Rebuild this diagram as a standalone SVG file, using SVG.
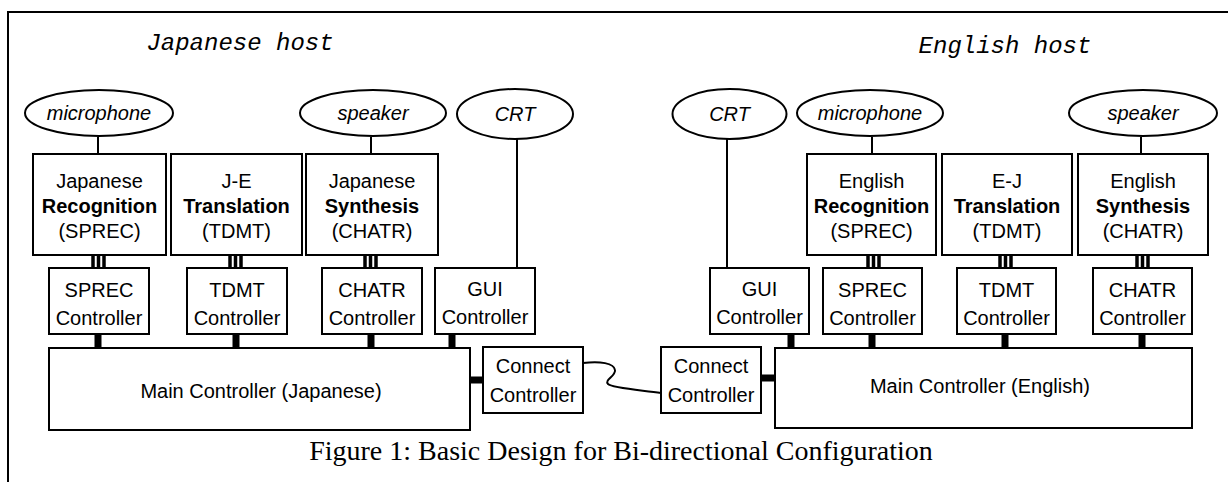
<svg xmlns="http://www.w3.org/2000/svg" width="1228" height="482" viewBox="0 0 1228 482">
<style>
  .box{fill:#fff;stroke:#000;stroke-width:2}
  .ell{fill:#fff;stroke:#000;stroke-width:2}
  .t{font-family:"Liberation Sans",Arial,sans-serif;font-size:20px;fill:#000;text-anchor:middle}
  .b{font-weight:bold}
  .i{font-style:italic}
  .host{font-family:"Liberation Mono","Courier New",monospace;font-style:italic;font-size:24px;fill:#000;text-anchor:middle}
  .cap{font-family:"Liberation Serif","Times New Roman",serif;font-size:28px;fill:#000;text-anchor:middle}
  .ln{stroke:#000;stroke-width:2;fill:none}
  .tri{stroke:#000;stroke-width:3.5}
  .thk{fill:#000}
</style>
<rect x="0" y="0" width="1228" height="482" fill="#fff"/>
<path class="ln" d="M8,482 V12 H1228"/>

<text class="host" x="240" y="50">Japanese host</text>
<text class="host" x="1005" y="53">English host</text>

<g id="connectors">
  <line class="ln" x1="98" y1="137" x2="98" y2="154"/>
  <line class="ln" x1="371" y1="137" x2="371" y2="154"/>
  <line class="ln" x1="517" y1="139" x2="517" y2="268"/>
  <line class="ln" x1="727" y1="139" x2="727" y2="268"/>
  <line class="ln" x1="872" y1="137" x2="872" y2="154"/>
  <line class="ln" x1="1141" y1="137" x2="1141" y2="154"/>
  <g class="tri">
    <line x1="93" y1="255" x2="93" y2="268"/><line x1="98.5" y1="255" x2="98.5" y2="268"/><line x1="104" y1="255" x2="104" y2="268"/>
    <line x1="230" y1="255" x2="230" y2="268"/><line x1="235.5" y1="255" x2="235.5" y2="268"/><line x1="241" y1="255" x2="241" y2="268"/>
    <line x1="365" y1="255" x2="365" y2="268"/><line x1="370.5" y1="255" x2="370.5" y2="268"/><line x1="376" y1="255" x2="376" y2="268"/>
    <line x1="868" y1="255" x2="868" y2="268"/><line x1="873.5" y1="255" x2="873.5" y2="268"/><line x1="879" y1="255" x2="879" y2="268"/>
    <line x1="1000" y1="255" x2="1000" y2="268"/><line x1="1005.5" y1="255" x2="1005.5" y2="268"/><line x1="1011" y1="255" x2="1011" y2="268"/>
    <line x1="1137" y1="255" x2="1137" y2="268"/><line x1="1142.5" y1="255" x2="1142.5" y2="268"/><line x1="1148" y1="255" x2="1148" y2="268"/>
  </g>
  <g class="thk">
    <rect x="94.5" y="334" width="7" height="14"/>
    <rect x="232.5" y="334" width="7" height="14"/>
    <rect x="367.5" y="334" width="7" height="14"/>
    <rect x="448.5" y="334" width="7" height="14"/>
    <rect x="787.5" y="334" width="7" height="14"/>
    <rect x="868.5" y="334" width="7" height="14"/>
    <rect x="1001.5" y="334" width="7" height="14"/>
    <rect x="1138.5" y="334" width="7" height="14"/>
    <rect x="470" y="376.5" width="13" height="7"/>
    <rect x="761" y="374.5" width="14" height="7"/>
  </g>
  <path class="ln" d="M583,363 C600,361 614,363 615,370 C616,376 604,380 608,384 C612,388 640,390 661,393"/>
</g>

<g id="mic-j"><ellipse class="ell" cx="99" cy="113" rx="74" ry="23"/><text class="t i" x="99" y="120">microphone</text></g>
<g id="spk-j"><ellipse class="ell" cx="373" cy="113" rx="73" ry="23"/><text class="t i" x="373" y="120">speaker</text></g>
<g id="crt-j"><ellipse class="ell" cx="515" cy="114" rx="58" ry="25"/><text class="t i" x="515" y="121">CRT</text></g>
<g id="crt-e"><ellipse class="ell" cx="729.5" cy="114" rx="57" ry="25"/><text class="t i" x="729.5" y="121">CRT</text></g>
<g id="mic-e"><ellipse class="ell" cx="870" cy="113" rx="73" ry="23"/><text class="t i" x="870" y="120">microphone</text></g>
<g id="spk-e"><ellipse class="ell" cx="1143" cy="113" rx="74" ry="23"/><text class="t i" x="1143" y="120">speaker</text></g>

<g id="j-recog"><rect class="box" x="33" y="154" width="133" height="101"/>
  <text class="t" x="99.5" y="188">Japanese</text><text class="t b" x="99.5" y="213">Recognition</text><text class="t" x="99.5" y="238">(SPREC)</text></g>
<g id="j-trans"><rect class="box" x="171" y="154" width="131" height="101"/>
  <text class="t" x="236.5" y="188">J-E</text><text class="t b" x="236.5" y="213">Translation</text><text class="t" x="236.5" y="238">(TDMT)</text></g>
<g id="j-synth"><rect class="box" x="306" y="154" width="132" height="101"/>
  <text class="t" x="372" y="188">Japanese</text><text class="t b" x="372" y="213">Synthesis</text><text class="t" x="372" y="238">(CHATR)</text></g>
<g id="e-recog"><rect class="box" x="807" y="154" width="129" height="101"/>
  <text class="t" x="871.5" y="188">English</text><text class="t b" x="871.5" y="213">Recognition</text><text class="t" x="871.5" y="238">(SPREC)</text></g>
<g id="e-trans"><rect class="box" x="942" y="154" width="130" height="101"/>
  <text class="t" x="1007" y="188">E-J</text><text class="t b" x="1007" y="213">Translation</text><text class="t" x="1007" y="238">(TDMT)</text></g>
<g id="e-synth"><rect class="box" x="1078" y="154" width="130" height="101"/>
  <text class="t" x="1143" y="188">English</text><text class="t b" x="1143" y="213">Synthesis</text><text class="t" x="1143" y="238">(CHATR)</text></g>

<g id="j-sprec-ctl"><rect class="box" x="49" y="268" width="100" height="66"/>
  <text class="t" x="99" y="297">SPREC</text><text class="t" x="99" y="325">Controller</text></g>
<g id="j-tdmt-ctl"><rect class="box" x="187" y="268" width="100" height="66"/>
  <text class="t" x="237" y="297">TDMT</text><text class="t" x="237" y="325">Controller</text></g>
<g id="j-chatr-ctl"><rect class="box" x="322" y="268" width="100" height="66"/>
  <text class="t" x="372" y="297">CHATR</text><text class="t" x="372" y="325">Controller</text></g>
<g id="j-gui-ctl"><rect class="box" x="435" y="268" width="100" height="66"/>
  <text class="t" x="485" y="296">GUI</text><text class="t" x="485" y="324">Controller</text></g>
<g id="e-gui-ctl"><rect class="box" x="710" y="268" width="99" height="66"/>
  <text class="t" x="759.5" y="296">GUI</text><text class="t" x="759.5" y="324">Controller</text></g>
<g id="e-sprec-ctl"><rect class="box" x="823" y="268" width="99" height="66"/>
  <text class="t" x="872.5" y="297">SPREC</text><text class="t" x="872.5" y="325">Controller</text></g>
<g id="e-tdmt-ctl"><rect class="box" x="957" y="268" width="99" height="66"/>
  <text class="t" x="1006.5" y="297">TDMT</text><text class="t" x="1006.5" y="325">Controller</text></g>
<g id="e-chatr-ctl"><rect class="box" x="1093" y="268" width="99" height="66"/>
  <text class="t" x="1142.5" y="297">CHATR</text><text class="t" x="1142.5" y="325">Controller</text></g>

<g id="j-main"><rect class="box" x="49" y="348" width="421" height="82"/>
  <text class="t" x="261" y="398">Main Controller (Japanese)</text></g>
<g id="e-main"><rect class="box" x="775" y="348" width="417" height="80"/>
  <text class="t" x="980" y="393">Main Controller (English)</text></g>
<g id="j-connect"><rect class="box" x="483" y="347" width="100" height="66"/>
  <text class="t" x="533" y="373">Connect</text><text class="t" x="533" y="402">Controller</text></g>
<g id="e-connect"><rect class="box" x="661" y="347" width="100" height="66"/>
  <text class="t" x="711" y="373">Connect</text><text class="t" x="711" y="402">Controller</text></g>

<text class="cap" x="621" y="460">Figure 1: Basic Design for Bi-directional Configuration</text>
</svg>
